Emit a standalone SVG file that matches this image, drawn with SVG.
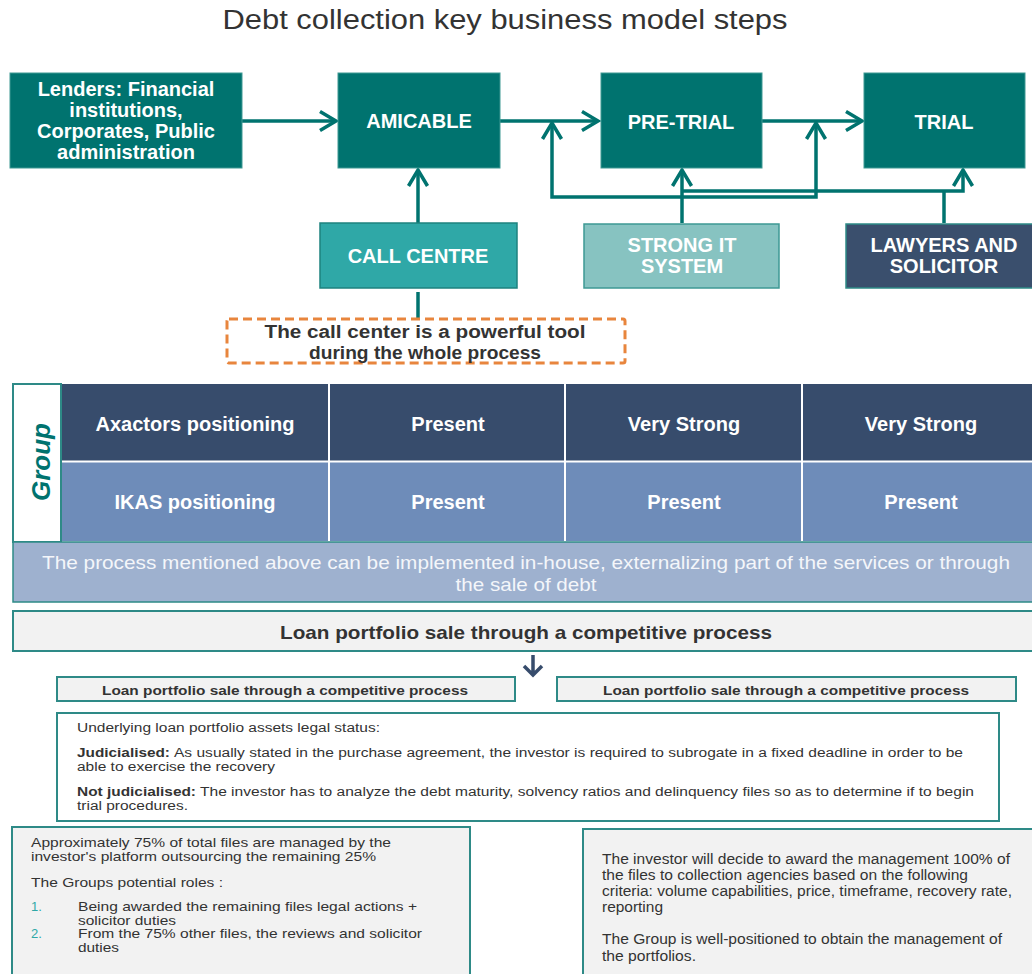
<svg xmlns="http://www.w3.org/2000/svg" width="1032" height="974" viewBox="0 0 1032 974">
<defs>
<style>
text{font-family:"Liberation Sans",Arial,sans-serif}
.box{fill:#00736F;stroke:#3E9994;stroke-width:1}
.wt{fill:#FFFFFF;font-weight:bold;font-size:20px;text-anchor:middle}
.conn{fill:none;stroke:#00736F;stroke-width:3.5;stroke-linejoin:miter}
.cell1{fill:#374C6C}
.cell2{fill:#6E8CB9}
.ct{fill:#FFFFFF;font-weight:bold;font-size:20px;text-anchor:middle}
.body{fill:#333333;font-size:12.5px}
.body2{fill:#333333;font-size:13px}
.body3{fill:#333333;font-size:14px}
.num{fill:#2FA8A7;font-size:13px}
.grey{fill:#F2F2F2;stroke:#2E8A87;stroke-width:2}
</style>
<marker id="chev" markerUnits="userSpaceOnUse" markerWidth="22" markerHeight="24" viewBox="0 0 22 24" refX="19" refY="12" orient="auto-start-reverse">
<path d="M3,2.5 L19,12 L3,21.5" fill="none" stroke="#00736F" stroke-width="3.5"/>
</marker>
</defs>
<rect width="1032" height="974" fill="#FFFFFF"/>

<text x="505" y="29" font-size="27" fill="#333333" text-anchor="middle" textLength="565" lengthAdjust="spacingAndGlyphs">Debt collection key business model steps</text>

<g id="connectors">
<path class="conn" d="M242,121 H336" marker-end="url(#chev)"/>
<path class="conn" d="M500,121 H598" marker-end="url(#chev)"/>
<path class="conn" d="M762,121 H862" marker-end="url(#chev)"/>
<path class="conn" d="M418,223 V170" marker-end="url(#chev)"/>
<path class="conn" d="M418,292 V319"/>
<path class="conn" d="M552,123 V197 H816 V123" marker-start="url(#chev)" marker-end="url(#chev)"/>
<path class="conn" d="M682,223 V170" marker-end="url(#chev)"/>
<path class="conn" d="M682,191 H963 V170" marker-end="url(#chev)"/>
<path class="conn" d="M944,223 V191"/>
<path d="M533,655 V675 M524,666 L533,675 L542,666" fill="none" stroke="#374C6C" stroke-width="3.5"/>
</g>

<g id="lenders">
<rect class="box" x="10" y="73" width="232" height="95"/>
<text class="wt" x="126" y="96">Lenders: Financial</text>
<text class="wt" x="126" y="117">institutions,</text>
<text class="wt" x="126" y="138">Corporates, Public</text>
<text class="wt" x="126" y="159">administration</text>
</g>
<g id="amicable">
<rect class="box" x="338" y="73" width="162" height="95"/>
<text class="wt" x="419" y="128">AMICABLE</text>
</g>
<g id="pretrial">
<rect class="box" x="601" y="73" width="161" height="95"/>
<text class="wt" x="681" y="129">PRE-TRIAL</text>
</g>
<g id="trial">
<rect class="box" x="864" y="73" width="161" height="95"/>
<text class="wt" x="944" y="129">TRIAL</text>
</g>
<g id="callcentre">
<rect x="320" y="223" width="197" height="65" fill="#2FA8A7" stroke="#1E827F" stroke-width="1.5"/>
<text class="wt" x="418" y="263">CALL CENTRE</text>
</g>
<g id="strongit">
<rect x="584" y="224" width="195" height="64" fill="#87C3C1" stroke="#3E9994" stroke-width="1.5"/>
<text class="wt" x="682" y="252">STRONG IT</text>
<text class="wt" x="682" y="273">SYSTEM</text>
</g>
<g id="lawyers">
<rect x="846" y="224" width="200" height="64" fill="#3A4F6D" stroke="#2E8A87" stroke-width="1.5"/>
<text class="wt" x="944" y="252">LAWYERS AND</text>
<text class="wt" x="944" y="273">SOLICITOR</text>
</g>
<g id="callnote">
<rect x="227" y="319" width="398" height="44" rx="2" fill="#FFFFFF" stroke="#E8853D" stroke-width="3" stroke-dasharray="9,5"/>
<text x="425" y="338" font-size="18" font-weight="bold" fill="#333333" text-anchor="middle" textLength="321" lengthAdjust="spacingAndGlyphs">The call center is a powerful tool</text>
<text x="425" y="359" font-size="18" font-weight="bold" fill="#333333" text-anchor="middle" textLength="232" lengthAdjust="spacingAndGlyphs">during the whole process</text>
</g>

<g id="table">
<rect x="13" y="384" width="48" height="158" fill="#FFFFFF" stroke="#2E8A87" stroke-width="2"/>
<text transform="translate(50,462) rotate(-90)" font-size="26" font-weight="bold" font-style="italic" fill="#00736F" text-anchor="middle">Group</text>
<rect class="cell1" x="62" y="384" width="970" height="77"/>
<rect class="cell2" x="62" y="462" width="970" height="79"/>
<path d="M329,384 V541 M565,384 V541 M802,384 V541 M62,461.5 H1032" stroke="#FFFFFF" stroke-width="2"/>
<text class="ct" x="195" y="431">Axactors positioning</text>
<text class="ct" x="448" y="431">Present</text>
<text class="ct" x="684" y="431">Very Strong</text>
<text class="ct" x="921" y="431">Very Strong</text>
<text class="ct" x="195" y="509">IKAS positioning</text>
<text class="ct" x="448" y="509">Present</text>
<text class="ct" x="684" y="509">Present</text>
<text class="ct" x="921" y="509">Present</text>
</g>
<g id="implementnote">
<rect x="13" y="542" width="1025" height="60" fill="#9EB1CF" stroke="#2E8A87" stroke-width="1.5"/>
<text x="526" y="569" font-size="18.5" fill="#F4F6FA" text-anchor="middle" textLength="968" lengthAdjust="spacingAndGlyphs">The process mentioned above can be implemented in-house, externalizing part of the services or through</text>
<text x="526" y="591" font-size="18.5" fill="#F4F6FA" text-anchor="middle" textLength="141" lengthAdjust="spacingAndGlyphs">the sale of debt</text>
</g>
<g id="loansale">
<rect class="grey" x="13" y="611" width="1025" height="40"/>
<text x="526" y="639" font-size="18.5" font-weight="bold" fill="#333333" text-anchor="middle" textLength="492" lengthAdjust="spacingAndGlyphs">Loan portfolio sale through a competitive process</text>
</g>
<g id="loansale-left">
<rect class="grey" x="57" y="677" width="458" height="24"/>
<text x="285" y="695" font-size="13.5" font-weight="bold" fill="#333333" text-anchor="middle" textLength="366" lengthAdjust="spacingAndGlyphs">Loan portfolio sale through a competitive process</text>
</g>
<g id="loansale-right">
<rect class="grey" x="557" y="677" width="459" height="24"/>
<text x="786" y="695" font-size="13.5" font-weight="bold" fill="#333333" text-anchor="middle" textLength="366" lengthAdjust="spacingAndGlyphs">Loan portfolio sale through a competitive process</text>
</g>
<g id="legalstatus">
<rect x="57" y="713" width="942" height="108" fill="#FFFFFF" stroke="#2E8A87" stroke-width="2"/>
<text class="body" x="77" y="732" textLength="303" lengthAdjust="spacingAndGlyphs">Underlying loan portfolio assets legal status:</text>
<text class="body" x="77" y="757" font-weight="bold" textLength="93" lengthAdjust="spacingAndGlyphs">Judicialised:</text>
<text class="body" x="174" y="757" textLength="789" lengthAdjust="spacingAndGlyphs">As usually stated in the purchase agreement, the investor is required to subrogate in a fixed deadline in order to be</text>
<text class="body" x="77" y="771" textLength="198" lengthAdjust="spacingAndGlyphs">able to exercise the recovery</text>
<text class="body" x="77" y="796" font-weight="bold" textLength="119" lengthAdjust="spacingAndGlyphs">Not judicialised:</text>
<text class="body" x="200" y="796" textLength="774" lengthAdjust="spacingAndGlyphs">The investor has to analyze the debt maturity, solvency ratios and delinquency files so as to determine if to begin</text>
<text class="body" x="77" y="810" textLength="111" lengthAdjust="spacingAndGlyphs">trial procedures.</text>
</g>
<g id="platform">
<rect class="grey" x="12" y="827" width="458" height="160"/>
<text class="body2" x="31" y="847" textLength="360" lengthAdjust="spacingAndGlyphs">Approximately 75% of total files are managed by the</text>
<text class="body2" x="31" y="861" textLength="345" lengthAdjust="spacingAndGlyphs">investor's platform outsourcing the remaining 25%</text>
<text class="body2" x="31" y="887" textLength="192" lengthAdjust="spacingAndGlyphs">The Groups potential roles :</text>
<text class="num" x="31" y="911">1.</text>
<text class="body2" x="78" y="911" textLength="339" lengthAdjust="spacingAndGlyphs">Being awarded the remaining files legal actions +</text>
<text class="body2" x="78" y="925" textLength="98" lengthAdjust="spacingAndGlyphs">solicitor duties</text>
<text class="num" x="31" y="938">2.</text>
<text class="body2" x="78" y="938" textLength="344" lengthAdjust="spacingAndGlyphs">From the 75% other files, the reviews and solicitor</text>
<text class="body2" x="78" y="952" textLength="41" lengthAdjust="spacingAndGlyphs">duties</text>
</g>
<g id="award">
<rect class="grey" x="583" y="829" width="460" height="160"/>
<text class="body3" x="602" y="864" textLength="408" lengthAdjust="spacingAndGlyphs">The investor will decide to award the management 100% of</text>
<text class="body3" x="602" y="880" textLength="366" lengthAdjust="spacingAndGlyphs">the files to collection agencies based on the following</text>
<text class="body3" x="602" y="896" textLength="410" lengthAdjust="spacingAndGlyphs">criteria: volume capabilities, price, timeframe, recovery rate,</text>
<text class="body3" x="602" y="912" textLength="61" lengthAdjust="spacingAndGlyphs">reporting</text>
<text class="body3" x="602" y="944" textLength="400" lengthAdjust="spacingAndGlyphs">The Group is well-positioned to obtain the management of</text>
<text class="body3" x="602" y="961" textLength="94" lengthAdjust="spacingAndGlyphs">the portfolios.</text>
</g>
</svg>
